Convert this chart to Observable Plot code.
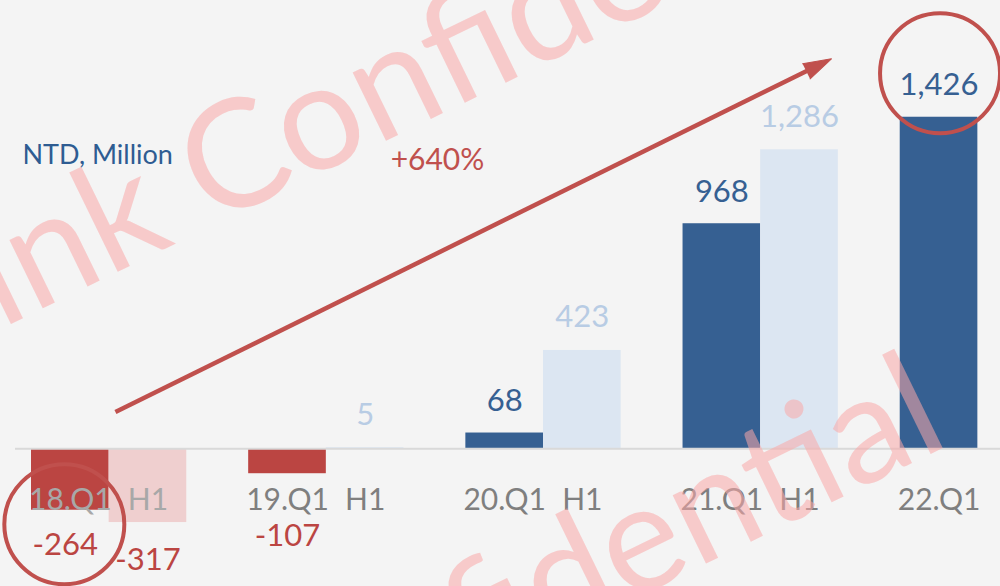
<!DOCTYPE html>
<html>
<head>
<meta charset="utf-8">
<script src="https://cdn.jsdelivr.net/npm/d3@7"></script>
<script src="https://cdn.jsdelivr.net/npm/@observablehq/plot@0.6"></script>
<style>
  html, body { margin: 0; padding: 0; background: #f4f4f4; overflow: hidden; }
  #chart { width: 1000px; height: 586px; overflow: hidden; }
</style>
</head>
<body>
<div id="chart"></div>
<script>
// ---- data ----
const groups = ["18", "19", "20", "21", "22"];
const q1Values = [-264, -107, 68, 968, 1426];
const h1Values = [-317, 5, 423, 1286];           // 22 has no H1 yet
const q1TickLabels = ["18.Q1", "19.Q1", "20.Q1", "21.Q1", "22.Q1"];
const h1TickLabel = "H1";
const unitLabel = "NTD, Million";
const growthLabel = "+640%";
const watermarkText = "Link Confidential";
// highlighted values (circled)
const circled = [{group: "22", value: 1426}];
const circledNeg = [{group: "18", value: -264}];
// trend arrow (from group 18 to group 22, values on y scale)
const trendArrow = [{g1: "18", v1: 145, g2: "22", v2: 1988}];
const trendHead = [{group: "22", value: 1677}];

// ---- colours ----
const BLUE = "#366092", LIGHTBLUE = "#dce6f2", LIGHTBLUE_TXT = "#b8cce4";
const RED = "#bb4542", PINK = "#efcfcf", ACCENT = "#c0504d";
const GRAY = "#7f7f7f", LIGHTGRAY = "#a8a8a8";

const rowsQ1 = groups.map((g, i) => ({group: g, value: q1Values[i]}));
const rowsH1 = h1Values.map((v, i) => ({group: groups[i], value: v}));
const fmt = v => v.toLocaleString("en-US");

const xRange = [31, 1055], padIn = 0.285;
const BW = (xRange[1] - xRange[0]) / (groups.length - padIn) * (1 - padIn);
const half = BW / 2, quarter = BW / 4;
const FONT = "Lato, 'Open Sans', sans-serif";

const axisOpts = {anchor: "bottom", tickSize: 0, tickPadding: 0, dy: -98, fontSize: 30, label: null};
const wmOpts = {frameAnchor: "top-left", text: d => d, rotate: -26, fontSize: 150,
  fill: "#f9a8a8", fillOpacity: 0.55, textAnchor: "start", lineAnchor: "middle"};

const chart = Plot.plot({
  width: 1000,
  height: 586,
  marginTop: 0, marginRight: 0, marginBottom: 0, marginLeft: 0,
  style: {background: "#f4f4f4", fontFamily: FONT, overflow: "hidden"},
  x: {domain: groups, range: xRange, paddingInner: padIn, paddingOuter: 0, round: false, label: null},
  y: {domain: [-592, 1928], axis: null},
  marks: [
    // bars
    Plot.barY(rowsQ1, {filter: d => d.value >= 0, x: "group", y: "value", fill: BLUE, insetRight: half}),
    Plot.barY(rowsQ1, {filter: d => d.value < 0, x: "group", y: "value", fill: RED, insetRight: half}),
    Plot.barY(rowsH1, {filter: d => d.value >= 0, x: "group", y: "value", fill: LIGHTBLUE, insetLeft: half}),
    Plot.barY(rowsH1, {filter: d => d.value < 0, x: "group", y: "value", fill: PINK, insetLeft: half}),
    // zero line
    Plot.ruleY([0], {stroke: "#d9d9d9", strokeWidth: 2, insetLeft: 15}),
    // category labels
    Plot.axisX(groups.slice(0, 1), {...axisOpts, dx: -quarter, color: LIGHTGRAY,
      tickFormat: g => q1TickLabels[groups.indexOf(g)]}),
    Plot.axisX(groups.slice(1), {...axisOpts, dx: -quarter, color: GRAY,
      tickFormat: g => q1TickLabels[groups.indexOf(g)]}),
    Plot.axisX(groups.slice(0, 1), {...axisOpts, dx: quarter, color: LIGHTGRAY, tickFormat: () => h1TickLabel}),
    Plot.axisX(groups.slice(1, h1Values.length), {...axisOpts, dx: quarter, color: GRAY, tickFormat: () => h1TickLabel}),
    // value labels
    Plot.text(rowsQ1, {filter: d => d.value >= 0, x: "group", y: "value", text: d => fmt(d.value),
      dx: -quarter, dy: -32, fontSize: 31, fill: BLUE, lineAnchor: "middle"}),
    Plot.text(rowsH1, {filter: d => d.value >= 0, x: "group", y: "value", text: d => fmt(d.value),
      dx: quarter, dy: -33, fontSize: 31, fill: LIGHTBLUE_TXT, lineAnchor: "middle"}),
    Plot.text(rowsQ1, {filter: d => d.group === "18", x: "group", y: "value", text: d => fmt(d.value),
      dx: -quarter - 5, dy: 35, fontSize: 31, fill: RED, lineAnchor: "middle"}),
    Plot.text(rowsH1, {filter: d => d.value < 0, x: "group", y: "value", text: d => fmt(d.value),
      dx: quarter, dy: 38, fontSize: 31, fill: RED, lineAnchor: "middle"}),
    Plot.text(rowsQ1, {filter: d => d.value < 0 && d.group !== "18", x: "group", y: "value", text: d => fmt(d.value),
      dx: -quarter, dy: 62, fontSize: 31, fill: RED, lineAnchor: "middle"}),
    // trend arrow
    Plot.arrow(trendArrow, {x1: "g1", y1: "v1", x2: "g2", y2: "v2", stroke: ACCENT, strokeWidth: 4.5,
      headLength: 0, insetStart: 7, insetEnd: 188, strokeLinecap: "butt"}),
    Plot.vector(trendHead, {x: "group", y: "value", dx: -146.4, anchor: "end", shape: "spike",
      length: 28, r: 8.5, rotate: 63.7, fill: ACCENT, stroke: ACCENT, strokeWidth: 1}),
    Plot.text([growthLabel], {frameAnchor: "top-left", text: d => d, dx: 437, dy: 160,
      fontSize: 30, fill: ACCENT, textAnchor: "middle", lineAnchor: "middle"}),
    // highlight circles
    Plot.dot(circled, {x: "group", y: "value", dx: -quarter + 1, dy: -44, r: 60, stroke: ACCENT, strokeWidth: 4, fill: "none"}),
    Plot.dot(circledNeg, {x: "group", y: "value", dx: -quarter - 6, dy: 14, r: 60, stroke: ACCENT, strokeWidth: 4, fill: "none"}),
    // unit label
    Plot.text([unitLabel], {frameAnchor: "top-left", text: d => d, dx: 22, dy: 155,
      fontSize: 27, fill: "#2e5c92", textAnchor: "start", lineAnchor: "middle"}),
    // watermark
    Plot.text([watermarkText], {...wmOpts, dx: -90, dy: 319}),
    Plot.text([watermarkText], {...wmOpts, dx: -68, dy: 887})
  ]
});
document.getElementById("chart").appendChild(chart);
</script>
</body>
</html>
